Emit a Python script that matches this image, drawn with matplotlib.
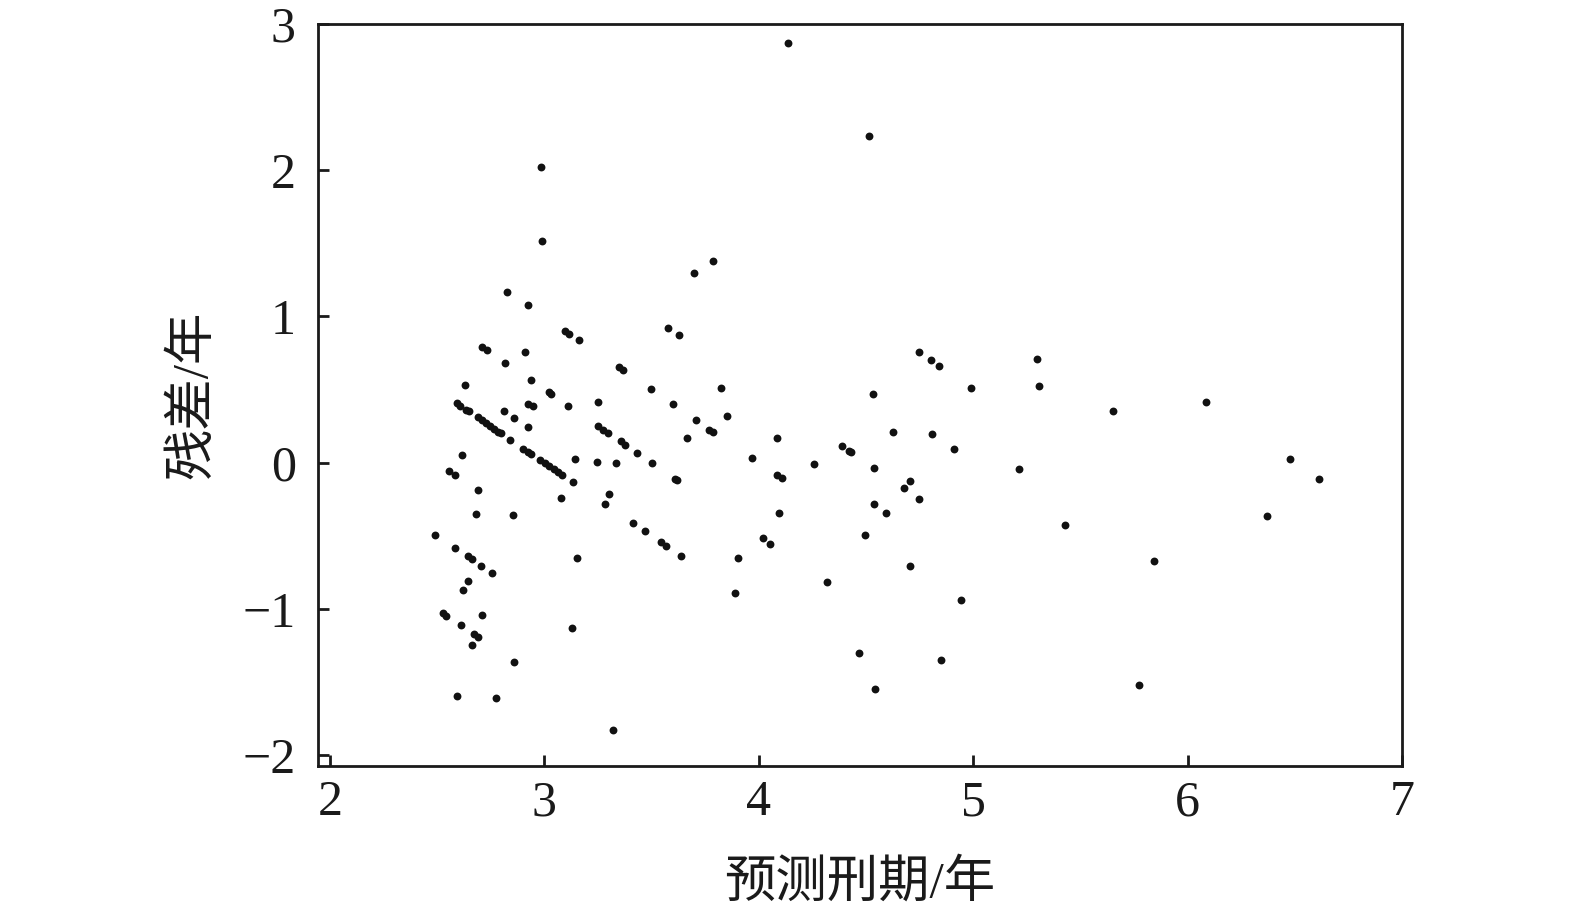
import matplotlib
matplotlib.use("Agg")
import matplotlib.pyplot as plt
import numpy as np

# predicted sentence (years) and residual (years)
pred = [
    2.826, 2.923, 3.096, 3.116, 3.163, 3.576, 2.708, 2.730, 2.908, 2.816,
    3.347, 3.366, 2.630, 2.936, 3.495, 3.020, 3.031, 2.590, 2.607, 2.634,
    2.646, 2.925, 2.948, 3.109, 3.252, 2.812, 2.858, 2.688, 2.707, 2.727,
    2.746, 2.764, 2.782, 2.797, 2.922, 3.252, 3.272, 3.297, 2.841, 3.355,
    3.377, 3.433, 2.901, 2.922, 2.936, 2.616, 2.981, 3.003, 3.023, 3.043,
    3.062, 3.084, 3.142, 3.244, 3.336, 3.503, 2.554, 2.584, 3.132, 2.688,
    3.076, 3.300, 3.283, 2.682, 2.853,
    # lower left block
    2.492, 3.414, 3.467, 3.545, 3.568, 2.584, 2.642, 2.660, 2.705, 2.755,
    3.154, 2.642, 2.620, 2.525, 2.542, 2.707, 2.613, 2.672, 2.691, 2.660,
    3.130, 2.859, 2.590, 2.772, 3.319,
    # middle block
    3.788, 3.699, 3.629, 4.746, 4.802, 4.842, 4.532, 3.825, 3.601, 3.850,
    3.705, 3.769, 3.788, 3.663, 4.626, 4.808, 4.908, 4.084, 4.387, 4.420,
    4.429, 3.967, 4.258, 3.610, 3.620, 4.084, 4.106, 4.537, 4.704, 4.676,
    4.748, 4.536, 4.595, 4.093, 4.495, 4.018, 4.053, 3.638, 3.903, 3.887,
    4.316, 4.705, 4.465, 4.849, 4.542,
    # right block
    4.990, 5.296, 5.308, 5.652, 6.087, 5.212, 5.429, 6.479, 6.612, 6.372,
    4.942, 5.845, 5.772,
    # top outliers
    4.136, 4.516, 2.986, 2.991,
]
resid = [
    1.170, 1.077, 0.901, 0.881, 0.837, 0.922, 0.789, 0.769, 0.758, 0.684,
    0.657, 0.637, 0.534, 0.563, 0.506, 0.484, 0.470, 0.409, 0.388, 0.363,
    0.351, 0.404, 0.385, 0.390, 0.413, 0.354, 0.308, 0.313, 0.290, 0.269,
    0.248, 0.228, 0.212, 0.201, 0.246, 0.248, 0.226, 0.203, 0.157, 0.146,
    0.123, 0.068, 0.096, 0.073, 0.060, 0.050, 0.018, -0.002, -0.023, -0.043,
    -0.064, -0.087, 0.025, 0.005, -0.002, -0.002, -0.055, -0.087, -0.132, -0.190,
    -0.244, -0.217, -0.285, -0.351, -0.356,
    -0.493, -0.415, -0.468, -0.543, -0.568, -0.586, -0.641, -0.662, -0.707, -0.755,
    -0.655, -0.810, -0.874, -1.029, -1.047, -1.043, -1.111, -1.175, -1.193, -1.248,
    -1.134, -1.362, -1.595, -1.608, -1.829,
    1.381, 1.300, 0.871, 0.758, 0.700, 0.659, 0.468, 0.509, 0.399, 0.320,
    0.294, 0.224, 0.210, 0.169, 0.208, 0.194, 0.094, 0.166, 0.114, 0.080,
    0.073, 0.032, -0.009, -0.110, -0.120, -0.084, -0.107, -0.036, -0.123, -0.176,
    -0.246, -0.285, -0.342, -0.344, -0.495, -0.518, -0.554, -0.639, -0.655, -0.890,
    -0.817, -0.705, -1.300, -1.348, -1.545,
    0.513, 0.707, 0.527, 0.351, 0.418, -0.043, -0.427, 0.025, -0.110, -0.367,
    -0.940, -0.675, -1.522,
    2.873, 2.234, 2.021, 1.513,
]
x_ticks = [2, 3, 4, 5, 6, 7]
y_ticks = [-2, -1, 0, 1, 2, 3]

fonts = ['Liberation Serif', 'Noto Sans CJK SC']
plt.rcParams['font.family'] = fonts
plt.rcParams['axes.unicode_minus'] = True

fig = plt.figure(figsize=(15.75, 9.1), dpi=100)
ax = fig.add_axes([0.2019, 0.1582, 0.6883, 0.8154])

ax.scatter(pred, resid, s=32, color='#111111', linewidths=0, zorder=3)

ax.set_xlim(1.944, 7.0)
ax.set_ylim(-2.075, 3.0)
ax.set_xticks(x_ticks)
ax.set_yticks(y_ticks)
ax.set_xticklabels([str(v) for v in x_ticks])
ax.set_yticklabels([str(v).replace('-', '\u2212') for v in y_ticks])

for sp in ax.spines.values():
    sp.set_linewidth(2.0)
    sp.set_color('#1a1a1a')

ax.tick_params(axis='both', direction='in', length=8, width=2.0,
               color='#1a1a1a', labelsize=36, labelcolor='#1a1a1a',
               top=False, right=False)
ax.tick_params(axis='x', pad=10)
ax.tick_params(axis='y', pad=16)

ax.set_xlabel('预测刑期/年', fontsize=37, color='#1a1a1a', labelpad=24)
ax.set_ylabel('残差/年', fontsize=37, color='#1a1a1a', labelpad=18)

fig.savefig('out.png', dpi=100)
